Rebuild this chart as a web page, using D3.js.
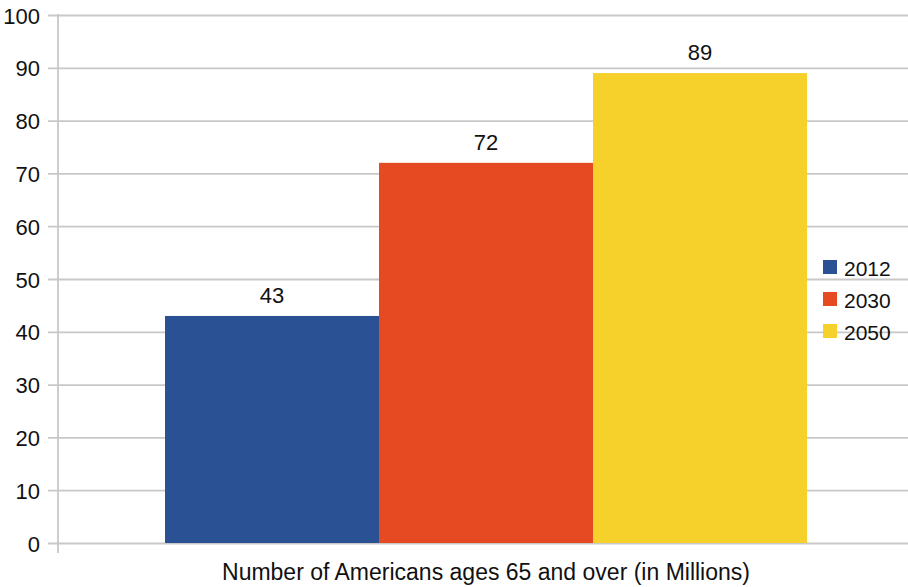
<!DOCTYPE html>
<html>
<head>
<meta charset="utf-8">
<script src="https://cdn.jsdelivr.net/npm/d3@7"></script>
<style>
  html, body { margin: 0; padding: 0; background: #fff; }
  svg { display: block; font-family: "Liberation Sans", Arial, sans-serif; }
</style>
</head>
<body>
<svg id="chart" width="908" height="587"></svg>
<script>
const categories = ["Number of Americans ages 65 and over (in Millions)"];
const seriesNames = ["2012", "2030", "2050"];
const seriesValues = [43, 72, 89];
const seriesColors = ["#2a5193", "#e54a23", "#f6d12b"];
const yTicks = [0, 10, 20, 30, 40, 50, 60, 70, 80, 90, 100];

const svg = d3.select("#chart");
const W = 908, H = 587;
const plot = { left: 58, right: 914, top: 15, bottom: 543 };

const y = d3.scaleLinear().domain([0, 100]).range([plot.bottom, plot.top]);
const x0 = d3.scaleBand().domain(categories).range([plot.left, plot.right])
  .paddingInner(0).paddingOuter(1/6);
const x1 = d3.scaleBand().domain(seriesNames).range([0, x0.bandwidth()]).padding(0);

// gridlines (incl. tick stubs left of axis)
const grid = d3.axisLeft(y).tickValues(yTicks).tickSize(-(W - plot.left) ).tickFormat("");
const gG = svg.append("g").attr("transform", `translate(${plot.left},0)`).call(grid);
gG.select(".domain").remove();
gG.selectAll(".tick line").attr("stroke", "#c8c8c8").attr("stroke-width", 1.8)
  .attr("x1", -10);

// y axis line
svg.append("line")
  .attr("x1", plot.left).attr("x2", plot.left)
  .attr("y1", y(100) - 1).attr("y2", y(0) + 10)
  .attr("stroke", "#c8c8c8").attr("stroke-width", 1.8);

// tick labels
svg.append("g").selectAll("text").data(yTicks).join("text")
  .attr("x", 40).attr("y", d => y(d) + 1)
  .attr("text-anchor", "end").attr("dominant-baseline", "central")
  .attr("font-size", 22).attr("fill", "#111")
  .text(d => d);

// bars
const data = seriesNames.map((s, i) => ({ cat: categories[0], name: s, value: seriesValues[i], color: seriesColors[i] }));
const bg = svg.append("g");
bg.selectAll("rect").data(data).join("rect")
  .attr("x", d => x0(d.cat) + x1(d.name))
  .attr("y", d => y(d.value))
  .attr("width", x1.bandwidth())
  .attr("height", d => y(0) - y(d.value))
  .attr("fill", d => d.color);

// value labels
bg.selectAll("text").data(data).join("text")
  .attr("x", d => x0(d.cat) + x1(d.name) + x1.bandwidth() / 2)
  .attr("y", d => y(d.value) - 13)
  .attr("text-anchor", "middle")
  .attr("font-size", 22).attr("fill", "#111")
  .text(d => d.value);

// category label
svg.append("text")
  .attr("x", x0(categories[0]) + x0.bandwidth() / 2)
  .attr("y", 580)
  .attr("text-anchor", "middle")
  .attr("font-size", 23).attr("fill", "#111")
  .text(categories[0]);

// legend
const lg = svg.append("g").attr("transform", "translate(823,267)");
const items = lg.selectAll("g").data(data).join("g")
  .attr("transform", (d, i) => `translate(0,${i * 32})`);
items.append("rect").attr("x", 0).attr("y", -7).attr("width", 14).attr("height", 14)
  .attr("fill", d => d.color);
items.append("text").attr("x", 21).attr("y", 1)
  .attr("dominant-baseline", "central")
  .attr("font-size", 21).attr("fill", "#111")
  .text(d => d.name);
</script>
</body>
</html>
